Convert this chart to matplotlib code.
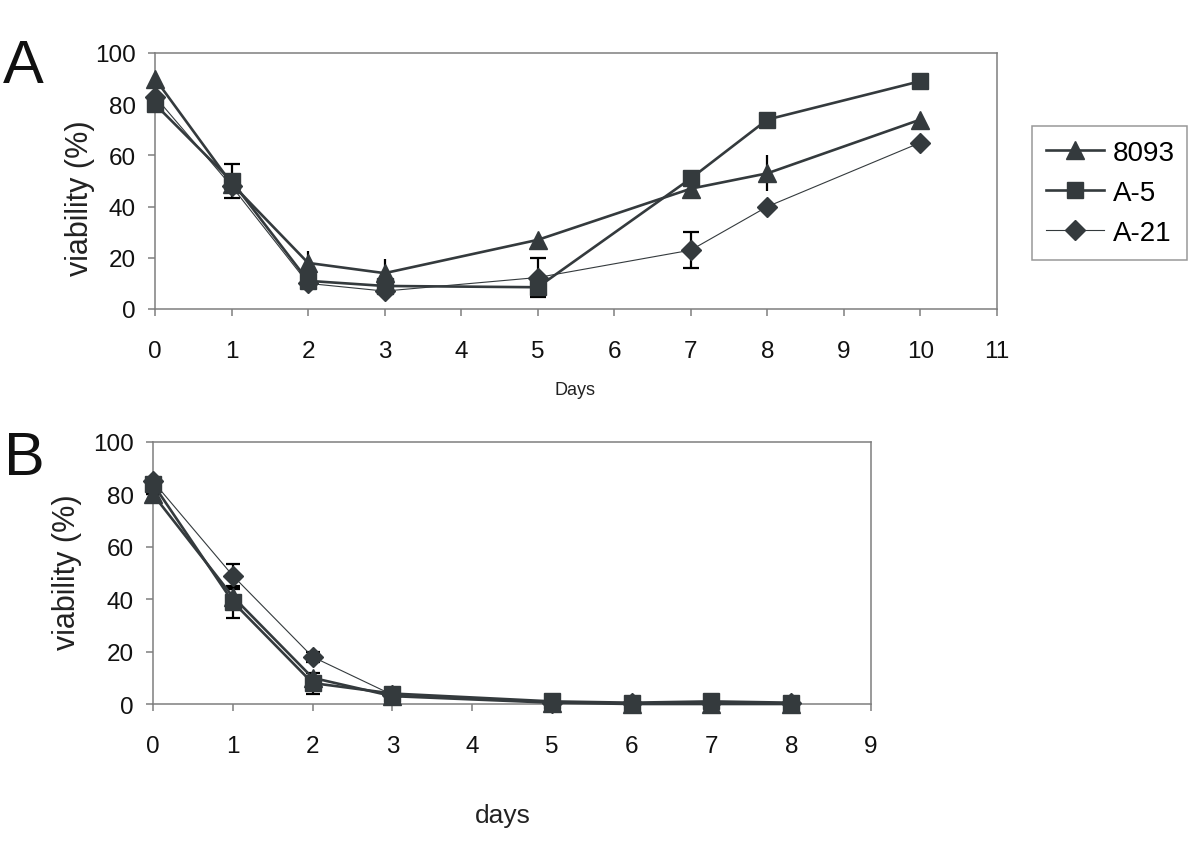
import matplotlib
matplotlib.use("Agg")
import matplotlib.pyplot as plt
import numpy as np

plt.rcParams['font.family'] = ['Liberation Sans', 'DejaVu Sans']

# ---------------- data ----------------
series_names = ["8093", "A-5", "A-21"]

days_a = [0, 1, 2, 3, 5, 7, 8, 10]
a_8093 = [90, 49, 18, 14, 27, 47, 53, 74]
a_a5 = [80, 50, 11, 9, 8.5, 51, 74, 89]
a_a21 = [83, 48, 10, 7, 12.3, 23, 40, 65]
a_err_8093 = [0, 0, 4.5, 5.5, 0, 0, 7, 2]
a_err_a5 = [0, 6.5, 0, 0, 0, 0, 0, 0]
a_err_a21 = [0, 0, 0, 0, 7.7, 7, 0, 0]

days_b = [0, 1, 2, 3, 5, 6, 7, 8]
b_8093 = [80, 41, 10, 3, 0.5, 0, 0, 0]
b_a5 = [84, 39, 8, 4, 1, 0.5, 1, 0.5]
b_a21 = [85, 49, 18, 3.5, 0.5, 0.3, 0.5, 0.2]
b_err_8093 = [0, 3, 0, 0, 0, 0, 0, 0]
b_err_a5 = [0, 6, 4, 0, 0, 0, 0, 0]
b_err_a21 = [0, 4.5, 2, 0, 0, 0, 0, 0]

xticks_a = list(range(0, 12))
xticks_b = list(range(0, 10))
yticks = [0, 20, 40, 60, 80, 100]

# ---------------- style ----------------
W, H = 1200, 853
fig = plt.figure(figsize=(W / 100, H / 100), dpi=100)

dark = '#343a3d'
frame = '#7f7f7f'
styles = {
    "8093": dict(marker='^', ms=13.5, lw=1.9),
    "A-5": dict(marker='s', ms=12, lw=1.9),
    "A-21": dict(marker='D', ms=10, lw=0.8),
}

def fx(px):
    return px / W

def fy(py):
    return 1 - py / H

def setup(ax, xmax, xticks):
    ax.set_xlim(0, xmax)
    ax.set_ylim(0, 100)
    ax.set_xticks(xticks)
    ax.set_yticks(yticks)
    for s in ax.spines.values():
        s.set_color(frame)
        s.set_linewidth(1.1)
    ax.tick_params(axis='both', direction='out', length=5, width=1.1,
                   color=frame, labelsize=17.5, labelcolor='#111111')
    ax.tick_params(axis='x', pad=17)
    ax.tick_params(axis='y', pad=9)

def draw(ax, days, vals, errs, name, capsize):
    st = styles[name]
    e = np.array(errs, dtype=float)
    ax.errorbar(days, vals, yerr=e, fmt='none', ecolor='black',
                elinewidth=1.6, capsize=capsize, capthick=1.6, zorder=2,
                clip_on=False)
    ax.plot(days, vals, color=dark, lw=st['lw'], marker=st['marker'],
            ms=st['ms'], mfc=dark, mec=dark, label=name, zorder=3,
            clip_on=False)

# Panel A
axA = fig.add_axes([fx(155), fy(310), fx(997) - fx(155), fy(54) - fy(310)])
setup(axA, 11, xticks_a)
draw(axA, days_a, a_8093, a_err_8093, "8093", 0)
draw(axA, days_a, a_a5, a_err_a5, "A-5", 5.5)
draw(axA, days_a, a_a21, a_err_a21, "A-21", 5.5)

# Panel B
axB = fig.add_axes([fx(153), fy(705), fx(871) - fx(153), fy(443) - fy(705)])
setup(axB, 9, xticks_b)
draw(axB, days_b, b_8093, b_err_8093, "8093", 5)
draw(axB, days_b, b_a5, b_err_a5, "A-5", 5)
draw(axB, days_b, b_a21, b_err_a21, "A-21", 5)

# Legend (panel A)
leg = axA.legend(loc='upper left',
                 bbox_to_anchor=(fx(1032), fy(259), fx(1187) - fx(1032), fy(127) - fy(259)),
                 bbox_transform=fig.transFigure, mode='expand',
                 fontsize=20, frameon=True, fancybox=False, handlelength=2.1,
                 handletextpad=0.3, labelspacing=0.5, borderpad=0.5,
                 borderaxespad=0)
leg.get_frame().set_edgecolor(frame)
leg.get_frame().set_linewidth(1.1)

# Text labels
fig.text(fx(3), fy(83), "A", fontsize=44, ha='left', va='baseline', color='#111111')
fig.text(fx(4), fy(475), "B", fontsize=44, ha='left', va='baseline', color='#111111')
fig.text(fx(80), fy(198), "viability (%)", fontsize=22, rotation=90,
         ha='center', va='center', color='#222222')
fig.text(fx(67), fy(572), "viability (%)", fontsize=22, rotation=90,
         ha='center', va='center', color='#222222')
fig.text(fx(575), fy(391), "Days", fontsize=13, ha='center', va='center', color='#222222')
fig.text(fx(503), fy(816), "days", fontsize=19, ha='center', va='center', color='#222222')

fig.savefig("out.png", dpi=100, facecolor='white')
